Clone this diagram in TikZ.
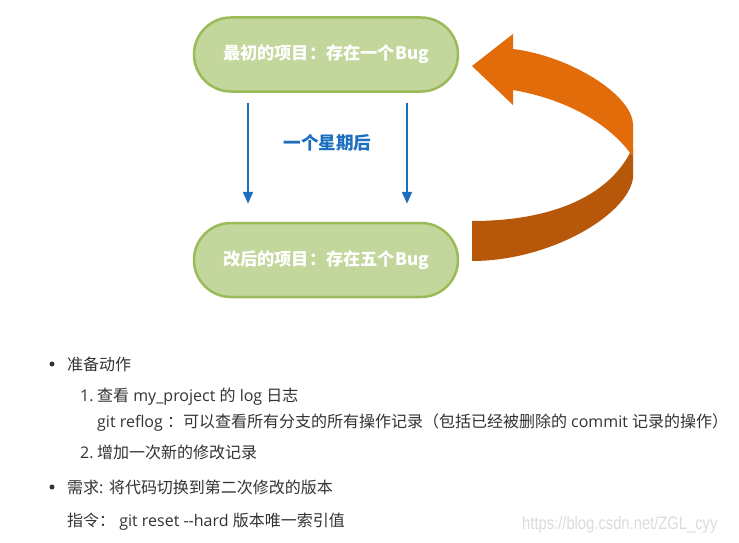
\documentclass[tikz,border=0pt]{standalone}
\usepackage{fontspec}
\setmainfont{Open Sans}
\newfontfamily\cjk{Noto Sans CJK SC}
\newfontfamily\wm{Liberation Sans}[FakeStretch=0.82]
\usetikzlibrary{arrows.meta}
\definecolor{pillfill}{HTML}{C3D69B}
\definecolor{pillline}{HTML}{9BBB59}
\definecolor{blu}{HTML}{1C6FBE}
\definecolor{orA}{HTML}{E36C0A}
\definecolor{orB}{HTML}{B7570A}
\definecolor{txt}{HTML}{333333}
\definecolor{wmc}{HTML}{DCDCDC}
\begin{document}
\begin{tikzpicture}[x=1pt,y=-1pt,
 pill/.style={draw=pillline, fill=pillfill, line width=2.5pt, rounded corners=37pt,
   minimum width=264pt, minimum height=74pt, text=white,
   font=\cjk\bfseries\fontsize{17.2}{19}\selectfont, inner sep=0pt},
 flow/.style={draw=blu, line width=2pt, -{Triangle[width=10pt,length=12pt]}},
 li/.style={anchor=base west, inner sep=0pt, text=txt, font=\fontsize{16}{19}\selectfont},
 dot/.style={circle, fill=txt, inner sep=0pt, minimum size=5pt}]
\useasboundingbox (0,0) rectangle (739,543);
\fill[white] (0,0) rectangle (739,543);
% pills
\node[pill] (top) at (326,54.5) {最初的项目：存在一个Bug};
\node[pill] (bot) at (326,260) {改后的项目：存在五个Bug};
% blue arrows
\draw[flow] ([xshift=-78pt,yshift=-10pt]top.south) -- ([xshift=-78pt,yshift=18pt]bot.north);
\draw[flow] ([xshift=81pt,yshift=-10pt]top.south) -- ([xshift=81pt,yshift=18pt]bot.north);
\node[font=\cjk\bfseries\fontsize{17.6}{19}\selectfont, text=blu, inner sep=0pt] (lbl) at (327.5,143) {一个星期后};
% orange curved arrow
\fill[orB] (633,150) -- (633,178) .. controls (628,215) and (550,261) .. (472,261)
  -- (472,221) .. controls (545,221) and (605,200) .. (630,153) -- cycle;
\fill[orA] (513,49) .. controls (570,56) and (633,95) .. (633,125) -- (633,157)
  .. controls (612,126) and (570,100) .. (513,90) -- (513,105) -- (472,66) -- (513,34) -- cycle;
% list
\node[dot] (b1) at (52,364) {};
\node[li] (t1) at (67,370) {\cjk 准备动作};
\node[li] (n1) at (80,401) {1.};
\node[li] (t2) at (97,401) {{\cjk 查看} my\_project {\cjk 的} log {\cjk 日志}};
\node[li] (t3) at (97,427) {git reflog {\cjk ：}{\cjk 可以查看所有分支的所有操作记录（包括已经被删除的} commit {\cjk 记录的操作）}};
\node[li] (n2) at (80,458) {2.};
\node[li] (t4) at (97,458) {\cjk 增加一次新的修改记录};
\node[dot] (b2) at (52,487) {};
\node[li] (t5) at (67,493) {{\cjk 需求}: {\cjk 将代码切换到第二次修改的版本}};
\node[li] (t6) at (67,526) {{\cjk 指令：} git reset -\kern0pt-hard {\cjk 版本唯一索引值}};
\node[anchor=base west, inner sep=0pt, text=wmc, font=\wm\fontsize{18}{20}\selectfont] (wm) at (522,529) {https://blog.csdn.net/ZGL\_cyy};
\end{tikzpicture}
\end{document}
